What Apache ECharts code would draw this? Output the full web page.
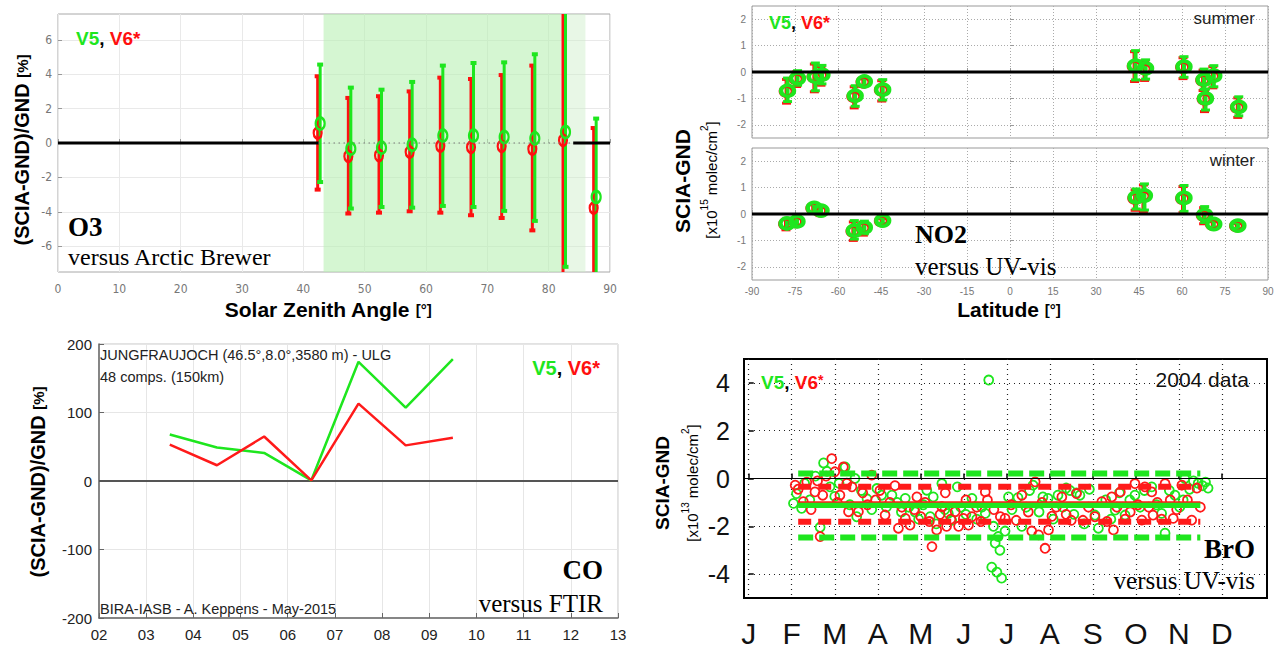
<!DOCTYPE html>
<html>
<head>
<meta charset="utf-8">
<script src="https://cdn.jsdelivr.net/npm/echarts@6.0.0/dist/echarts.min.js"></script>
<style>
  html, body { margin: 0; padding: 0; background: #fff; }
  #chart { width: 1279px; height: 648px; }
</style>
</head>
<body>
<div id="chart"></div>
<script>
// ---------- O3 versus Arctic Brewer ----------
var o3Bins = [42.5, 47.5, 52.5, 57.5, 62.5, 67.5, 72.5, 77.5, 82.5, 87.5];
var o3V5Mean = [1.13, -0.33, -0.27, -0.1, 0.43, 0.43, 0.35, 0.27, 0.64, -3.14];
var o3V5Low = [-2.27, -3.81, -3.72, -3.76, -3.66, -3.72, -3.95, -4.53, -7.2, -9.5];
var o3V5High = [4.56, 3.22, 3.1, 3.55, 4.5, 4.65, 4.69, 5.16, 9.5, 1.42];
var o3V6Mean = [0.58, -0.77, -0.72, -0.52, -0.17, -0.25, -0.19, -0.35, 0.16, -3.78];
var o3V6Low = [-2.71, -4.1, -4.05, -3.97, -4.05, -4.2, -4.36, -5.08, -9.5, -9.5];
var o3V6High = [3.88, 2.62, 2.72, 3.0, 3.8, 3.72, 3.95, 4.5, 9.5, 0.87];
var o3CloudRange = [[43.3, 82], [82, 86]];
var o3ZeroBreaks = [42.5, 84];
var o3YTicks = [-6, -4, -2, 0, 2, 4, 6];

// ---------- NO2 versus UV-vis ----------
var no2SummerLat = [-77.6, -74.1, -67.9, -65.6, -54, -50.8, -44.4, 43.8, 47.3, 60.7, 67.7, 71.1, 68.2, 79.8];
var no2SummerV5 = [-0.71, -0.24, -0.18, -0.1, -0.9, -0.36, -0.67, 0.24, 0.14, 0.2, -0.29, -0.14, -1.0, -1.32];
var no2SummerV5Low = [-1.12, -0.5, -0.71, -0.45, -1.3, -0.5, -1.06, -0.3, -0.27, -0.2, -0.65, -0.56, -1.44, -1.66];
var no2SummerV5High = [-0.23, 0.05, 0.34, 0.25, -0.52, -0.22, -0.29, 0.81, 0.46, 0.58, 0.11, 0.24, -0.65, -0.94];
var no2SummerV6 = [-0.75, -0.28, -0.2, -0.14, -0.95, -0.4, -0.7, 0.2, 0.1, 0.16, -0.33, -0.18, -1.04, -1.36];
var no2SummerV6Low = [-1.18, -0.55, -0.75, -0.5, -1.36, -0.55, -1.1, -0.36, -0.32, -0.25, -0.7, -0.6, -1.5, -1.72];
var no2SummerV6High = [-0.28, 0.0, 0.3, 0.2, -0.56, -0.26, -0.33, 0.77, 0.42, 0.54, 0.07, 0.2, -0.7, -0.98];
var no2WinterLat = [-77.8, -74.3, -68.3, -65.9, -54.3, -50.8, -44.4, 44, 46.9, 60.7, 67.9, 71.1, 79.5];
var no2WinterV5 = [-0.36, -0.28, 0.23, 0.13, -0.63, -0.51, -0.25, 0.63, 0.7, 0.61, -0.03, -0.38, -0.44];
var no2WinterV5Low = [-0.55, -0.42, 0.08, -0.02, -0.95, -0.75, -0.35, 0.19, 0.15, 0.1, -0.32, -0.5, -0.54];
var no2WinterV5High = [-0.16, -0.14, 0.38, 0.28, -0.25, -0.27, -0.15, 0.95, 1.14, 1.08, 0.28, -0.26, -0.34];
var no2WinterV6 = [-0.4, -0.31, 0.2, 0.1, -0.67, -0.55, -0.28, 0.58, 0.66, 0.57, -0.07, -0.41, -0.47];
var no2WinterV6Low = [-0.6, -0.46, 0.04, -0.06, -1.0, -0.8, -0.39, 0.14, 0.1, 0.05, -0.37, -0.54, -0.58];
var no2WinterV6High = [-0.2, -0.17, 0.35, 0.25, -0.3, -0.31, -0.18, 0.91, 1.1, 1.04, 0.24, -0.29, -0.37];
var no2LatRange = [-90, 90];
var no2YTicks = [-2, -1, 0, 1, 2];

// ---------- CO versus FTIR ----------
var coMonths = [3.5, 4.5, 5.5, 6.5, 7.5, 8.5, 9.5];
var coV5 = [68, 49, 41, 1, 174, 107, 178];
var coV6 = [53, 23, 65, 1, 113, 52, 63];
var coMonthRange = [2, 13];

// ---------- BrO versus UV-vis (x in months from 1 Jan 2004) ----------
var brMonthLabels = ['J', 'F', 'M', 'A', 'M', 'J', 'J', 'A', 'S', 'O', 'N', 'D'];
var brMonthTicks = [0, 1, 2, 3, 4, 5, 6, 7, 8, 9, 10, 11];
var brYTicks = [-4, -2, 0, 2, 4];
var brV5Points = [
  [1.04, -1.04], [1.11, -0.63], [1.23, -1.25], [1.3, -0.2], [1.42, -0.9], [1.55, 0.1], [1.66, -2.04],
  [1.74, 0.65], [1.82, 0.3], [1.89, -0.35], [2.0, -0.75], [2.1, -0.2], [2.24, 0.48], [2.35, -1.1],
  [2.47, 0.0], [2.51, -1.6], [2.62, -0.5], [2.75, -0.85], [2.86, -1.3], [2.98, -0.42], [3.09, -0.7],
  [3.2, -1.2], [3.33, -0.7], [3.45, -1.0], [3.55, -1.4], [3.64, -0.83], [3.72, -1.2], [3.87, -1.4],
  [3.95, -1.7], [4.06, -1.1], [4.14, -0.49], [4.22, -1.6], [4.29, -0.77], [4.36, -1.9], [4.49, -0.21],
  [4.56, -1.3], [4.64, -1.46], [4.72, -1.75], [4.85, -0.35], [4.93, -1.2], [5.05, -1.5], [5.19, -0.83],
  [5.3, -1.7], [5.42, -1.2], [5.5, -1.46], [5.58, 4.12], [5.65, -3.71], [5.69, -2.0], [5.73, -2.7],
  [5.77, -3.92], [5.8, -2.43], [5.84, -3.0], [5.88, -4.17], [5.96, -2.2], [6.04, -0.77], [6.12, -1.3],
  [6.26, -0.8], [6.35, -2.0], [6.45, -1.2], [6.53, -0.5], [6.61, -0.28], [6.75, -1.4], [6.84, -0.77],
  [6.96, -0.83], [7.08, -1.7], [7.19, -0.7], [7.3, -1.2], [7.38, -0.4], [7.47, -0.5], [7.56, -1.5],
  [7.62, -0.6], [7.7, -0.7], [7.8, -1.9], [7.92, -0.45], [8.05, -1.53], [8.13, -2.08], [8.3, -0.9],
  [8.42, -1.7], [8.52, -1.32], [8.62, -0.6], [8.75, -1.53], [8.86, -0.9], [8.98, -0.7], [9.1, -1.2],
  [9.2, -0.5], [9.37, -0.35], [9.48, -1.1], [9.6, -1.46], [9.68, -2.29], [9.78, -0.5], [9.91, -0.7],
  [10.02, -1.2], [10.1, -0.9], [10.14, 0.0], [10.25, -0.45], [10.34, -0.1], [10.45, -0.2], [10.55, -0.3],
  [10.62, -0.15], [10.68, -0.4]
];
var brV6Points = [
  [1.08, -0.28], [1.15, -0.45], [1.27, -0.97], [1.35, -0.15], [1.45, -1.3], [1.54, -0.56], [1.6, -0.1],
  [1.66, -2.43], [1.72, -0.7], [1.8, 0.1], [1.93, 0.83], [2.0, 0.28], [2.06, -1.0], [2.12, -0.7],
  [2.2, 0.48], [2.28, -0.2], [2.32, -1.39], [2.4, -0.35], [2.55, -1.39], [2.65, -0.6], [2.76, -1.1],
  [2.86, 0.14], [2.95, -0.9], [3.05, -0.5], [3.17, -1.53], [3.28, -1.0], [3.4, -0.3], [3.48, -2.08],
  [3.56, -1.2], [3.64, -1.67], [3.75, -1.95], [3.85, -1.3], [3.91, -0.77], [4.0, -1.6], [4.1, -1.0],
  [4.2, -1.8], [4.26, -2.85], [4.37, -2.15], [4.45, -1.5], [4.49, -1.18], [4.57, -0.6], [4.6, -2.0],
  [4.7, -1.7], [4.8, -1.39], [4.88, -2.0], [4.99, -1.67], [5.05, -0.9], [5.11, -1.95], [5.19, -1.6],
  [5.3, -1.2], [5.4, -1.8], [5.5, -0.56], [5.55, -0.9], [5.7, -1.3], [5.85, -1.6], [5.96, -1.67],
  [6.1, -1.1], [6.22, -1.75], [6.35, -0.7], [6.5, -1.4], [6.58, -2.2], [6.66, -0.14], [6.74, -2.36],
  [6.82, -1.0], [6.89, -2.92], [6.97, -2.15], [7.05, -1.58], [7.15, -1.2], [7.28, -0.77], [7.38, -1.5],
  [7.5, -1.75], [7.62, -0.63], [7.77, -1.75], [7.9, -1.2], [8.05, -1.6], [8.21, -0.97], [8.33, -1.8],
  [8.44, -0.77], [8.48, -2.15], [8.56, -1.2], [8.64, -0.56], [8.75, -1.7], [8.87, -1.4], [8.98, -0.21],
  [9.05, -1.1], [9.14, -1.74], [9.21, -0.35], [9.3, -1.2], [9.37, -0.56], [9.4, -1.53], [9.5, -1.0],
  [9.6, -1.7], [9.68, -0.21], [9.8, -0.9], [9.87, -1.67], [9.95, -1.3], [10.07, -0.28], [10.2, -0.9],
  [10.3, -1.74], [10.42, -0.4], [10.5, -1.2]
];
var brFitRange = [1.15, 10.5];
var brV5Mean = -1.11;
var brV5Band = [0.21, -2.47];
var brV6Mean = -0.98;
var brV6Band = [-0.35, -1.81];

var GREEN = '#1ee61e';
var RED = '#ff1010';
var SANS = "'Liberation Sans', Arial, Helvetica, sans-serif";
var SERIF = "'Liberation Serif', 'Times New Roman', serif";
var NARROW = "'Liberation Sans Narrow', 'DejaVu Sans Condensed', 'Liberation Sans', sans-serif";

var chart = echarts.init(document.getElementById('chart'), null, {renderer: 'svg'});

function pairs(xs, ys) {
  return xs.map(function (x, i) { return [x, ys[i]]; });
}
function triples(xs, lo, hi) {
  return xs.map(function (x, i) { return [x, lo[i], hi[i]]; });
}

// vertical error bar with small caps, clipped to the grid
function errorBars(color, lineW, capW, capH, dx) {
  return function (params, api) {
    var cs = params.coordSys;
    var x = api.value(0);
    var pTop = api.coord([x, api.value(2)]);
    var pBot = api.coord([x, api.value(1)]);
    var px = pTop[0] + dx;
    var yMin = cs.y, yMax = cs.y + cs.height;
    var kids = [{
      type: 'line',
      shape: {x1: px, y1: Math.max(pTop[1], yMin), x2: px, y2: Math.min(pBot[1], yMax)},
      style: {stroke: color, lineWidth: lineW}
    }];
    if (pTop[1] >= yMin) {
      kids.push({type: 'rect', shape: {x: px - capW / 2, y: pTop[1] - capH / 2, width: capW, height: capH}, style: {fill: color}});
    }
    if (pBot[1] <= yMax) {
      kids.push({type: 'rect', shape: {x: px - capW / 2, y: pBot[1] - capH / 2, width: capW, height: capH}, style: {fill: color}});
    }
    return {type: 'group', children: kids};
  };
}

function errSeries(grid, data, color, lineW, capW, capH, dx) {
  return {
    type: 'custom', xAxisIndex: grid, yAxisIndex: grid, silent: true,
    renderItem: errorBars(color, lineW, capW, capH, dx),
    encode: {x: 0, y: [1, 2]},
    data: data
  };
}

function ringSeries(grid, data, color, size, border, offset) {
  return {
    type: 'scatter', xAxisIndex: grid, yAxisIndex: grid, silent: true,
    symbol: 'circle', symbolSize: size, symbolOffset: offset || [0, 0],
    itemStyle: {color: 'rgba(0,0,0,0)', borderColor: color, borderWidth: border, opacity: 1},
    data: data
  };
}

function lineSeries(grid, data, color, width, type, extra) {
  var s = {
    type: 'line', xAxisIndex: grid, yAxisIndex: grid, silent: true,
    showSymbol: false, symbol: 'none', animation: false,
    lineStyle: {color: color, width: width, type: type || 'solid', cap: 'butt'},
    data: data
  };
  return Object.assign(s, extra || {});
}

function txt(x, y, text, style, rotation) {
  return {
    type: 'text', x: x, y: y, z: 100, rotation: rotation || 0, silent: true,
    style: Object.assign({text: text, fill: '#000', align: 'left', verticalAlign: 'middle'}, style)
  };
}

function versionRich(size, starSize) {
  return {
    g: {fontSize: size, fontWeight: 'bold', fontFamily: SANS, fill: GREEN},
    k: {fontSize: size, fontWeight: 'bold', fontFamily: SANS, fill: '#000'},
    r: {fontSize: size, fontWeight: 'bold', fontFamily: SANS, fill: RED},
    s: {fontSize: starSize, fontWeight: 'bold', fontFamily: SANS, fill: RED, verticalAlign: 'top', lineHeight: starSize}
  };
}
var versionText = '{g|V5}{k|, }{r|V6}{s|*}';

function titleRich(big, small) {
  return {
    b: {fontSize: big, fontWeight: 'bold', fontFamily: SANS, fill: '#000'},
    s: {fontSize: small, fontWeight: 'bold', fontFamily: SANS, fill: '#000'}
  };
}
function unitRich(size) {
  return {
    m: {fontSize: size, fontFamily: SANS, fill: '#000', lineHeight: size + 4, verticalAlign: 'bottom'},
    u: {fontSize: Math.round(size * 0.65), fontFamily: SANS, fill: '#000', lineHeight: size + 4, verticalAlign: 'top'}
  };
}

var grayAxis = {
  axisLine: {show: false},
  axisTick: {inside: true, length: 4, lineStyle: {color: '#999'}}
};

var option = {
  backgroundColor: '#fff',
  animation: false,
  grid: [
    {left: 58, top: 14, width: 552, height: 258, show: true, borderColor: '#a8a8a8', borderWidth: 1},
    {left: 752, top: 6, width: 516, height: 132, show: true, borderColor: '#999', borderWidth: 1},
    {left: 752, top: 148, width: 516, height: 132, show: true, borderColor: '#999', borderWidth: 1},
    {left: 99, top: 344, width: 519, height: 274, show: true, borderColor: '#c4c4c4', borderWidth: 1},
    {left: 744, top: 359, width: 523, height: 239, show: true, borderColor: '#000', borderWidth: 2}
  ],
  xAxis: [
    {gridIndex: 0, type: 'value', min: 0, max: 90, interval: 10,
      axisLine: grayAxis.axisLine, axisTick: grayAxis.axisTick,
      axisLabel: {color: '#777', fontSize: 12, fontFamily: NARROW, margin: 11},
      splitLine: {lineStyle: {color: '#e9e9e9', width: 1}}},
    {gridIndex: 1, type: 'value', min: -90, max: 90, interval: 15,
      axisLine: grayAxis.axisLine, axisTick: grayAxis.axisTick,
      axisLabel: {show: false},
      splitLine: {lineStyle: {color: '#aaa', type: [1, 2]}}},
    {gridIndex: 2, type: 'value', min: -90, max: 90, interval: 15,
      axisLine: grayAxis.axisLine, axisTick: grayAxis.axisTick,
      axisLabel: {color: '#777', fontSize: 10, fontFamily: SANS, margin: 6},
      splitLine: {lineStyle: {color: '#aaa', type: [1, 2]}}},
    {gridIndex: 3, type: 'value', min: 2, max: 13, interval: 1,
      axisLine: {show: true, onZero: false, lineStyle: {color: '#666', width: 1.5}},
      axisTick: {inside: true, length: 5, lineStyle: {color: '#666'}},
      axisLabel: {color: '#222', fontSize: 15, fontFamily: SANS, margin: 9,
        formatter: function (v) { return (v < 10 ? '0' : '') + v; }},
      splitLine: {lineStyle: {color: '#e6e6e6'}}},
    {gridIndex: 4, type: 'value', min: -0.11, max: 12.05,
      axisLine: {show: false},
      axisTick: {inside: true, length: 5, customValues: brMonthTicks, lineStyle: {color: '#000', width: 1.5}},
      axisLabel: {customValues: brMonthTicks, color: '#111', fontSize: 30, fontFamily: SANS, margin: 20,
        formatter: function (v) { return brMonthLabels[Math.round(v)]; }},
      splitLine: {lineStyle: {color: '#222', type: [1, 4], width: 1.2}}}
  ],
  yAxis: [
    {gridIndex: 0, type: 'value', min: -7.5, max: 7.5,
      axisLine: grayAxis.axisLine,
      axisTick: {inside: true, length: 4, customValues: o3YTicks, lineStyle: {color: '#999'}},
      axisLabel: {customValues: o3YTicks, color: '#777', fontSize: 12, fontFamily: NARROW, margin: 6},
      splitLine: {lineStyle: {color: '#e9e9e9'}}},
    {gridIndex: 1, type: 'value', min: -2.5, max: 2.5,
      axisLine: grayAxis.axisLine,
      axisTick: {inside: true, length: 4, customValues: no2YTicks, lineStyle: {color: '#999'}},
      axisLabel: {customValues: no2YTicks, color: '#777', fontSize: 10, fontFamily: SANS, margin: 6},
      splitLine: {lineStyle: {color: '#aaa', type: [1, 2]}}},
    {gridIndex: 2, type: 'value', min: -2.5, max: 2.5,
      axisLine: grayAxis.axisLine,
      axisTick: {inside: true, length: 4, customValues: no2YTicks, lineStyle: {color: '#999'}},
      axisLabel: {customValues: no2YTicks, color: '#777', fontSize: 10, fontFamily: SANS, margin: 6},
      splitLine: {lineStyle: {color: '#aaa', type: [1, 2]}}},
    {gridIndex: 3, type: 'value', min: -200, max: 200, interval: 100,
      axisLine: {show: true, onZero: false, lineStyle: {color: '#666', width: 1.5}},
      axisTick: {inside: true, length: 5, lineStyle: {color: '#666'}},
      axisLabel: {color: '#222', fontSize: 15, fontFamily: SANS, margin: 7},
      splitLine: {lineStyle: {color: '#e6e6e6'}}},
    {gridIndex: 4, type: 'value', min: -5, max: 5,
      axisLine: {show: false},
      axisTick: {inside: true, length: 5, customValues: brYTicks, lineStyle: {color: '#000', width: 1.5}},
      axisLabel: {customValues: brYTicks, color: '#111', fontSize: 25, fontFamily: SANS, margin: 14},
      splitLine: {lineStyle: {color: '#222', type: [1, 4], width: 1.2}}}
  ],
  series: [
    // O3
    lineSeries(0, [[0, 0], [o3ZeroBreaks[0], 0]], '#000', 3, 'solid', {
      markArea: {silent: true, data: [
        [{xAxis: o3CloudRange[0][0], itemStyle: {color: 'rgba(185,240,180,0.6)'}}, {xAxis: o3CloudRange[0][1]}],
        [{xAxis: o3CloudRange[1][0], itemStyle: {color: 'rgba(205,238,200,0.45)'}}, {xAxis: o3CloudRange[1][1]}]
      ]}
    }),
    lineSeries(0, [[o3ZeroBreaks[0], 0], [o3ZeroBreaks[1], 0]], '#777', 1.5, [1, 4]),
    lineSeries(0, [[o3ZeroBreaks[1], 0], [90, 0]], '#000', 3),
    errSeries(0, triples(o3Bins, o3V6Low, o3V6High), RED, 3, 6, 4, -1),
    errSeries(0, triples(o3Bins, o3V5Low, o3V5High), GREEN, 3, 6, 4, 1.5),
    ringSeries(0, pairs(o3Bins, o3V6Mean), RED, [8, 11], 2.5, [-1, 0]),
    ringSeries(0, pairs(o3Bins, o3V5Mean), GREEN, [9, 12], 2.5, [1.5, 0]),

    // NO2 summer
    lineSeries(1, [[no2LatRange[0], 0], [no2LatRange[1], 0]], '#000', 3),
    errSeries(1, triples(no2SummerLat, no2SummerV6Low, no2SummerV6High), RED, 4, 9, 3, -1),
    ringSeries(1, pairs(no2SummerLat, no2SummerV6), RED, [12, 10], 3.5, [-1, -0.5]),
    errSeries(1, triples(no2SummerLat, no2SummerV5Low, no2SummerV5High), GREEN, 4, 9, 3, 0),
    ringSeries(1, pairs(no2SummerLat, no2SummerV5), GREEN, [13, 11], 4),

    // NO2 winter
    lineSeries(2, [[no2LatRange[0], 0], [no2LatRange[1], 0]], '#000', 3),
    errSeries(2, triples(no2WinterLat, no2WinterV6Low, no2WinterV6High), RED, 4, 9, 3, -1),
    ringSeries(2, pairs(no2WinterLat, no2WinterV6), RED, [12, 10], 3.5, [-1, -0.5]),
    errSeries(2, triples(no2WinterLat, no2WinterV5Low, no2WinterV5High), GREEN, 4, 9, 3, 0),
    ringSeries(2, pairs(no2WinterLat, no2WinterV5), GREEN, [13, 11], 4),

    // CO
    lineSeries(3, [[coMonthRange[0], 0], [coMonthRange[1], 0]], '#555', 2),
    lineSeries(3, pairs(coMonths, coV5), '#1ee61e', 2.5),
    lineSeries(3, pairs(coMonths, coV6), '#ff1a1a', 2.5),

    // BrO
    lineSeries(4, [[-0.11, 0], [12.05, 0]], '#000', 1.2),
    ringSeries(4, brV5Points, '#1ee61e', 9, 1.8),
    ringSeries(4, brV6Points, '#ff1a1a', 9, 1.8),
    lineSeries(4, [[brFitRange[0], brV5Band[0]], [brFitRange[1], brV5Band[0]]], '#1ee61e', 6, [15, 6]),
    lineSeries(4, [[brFitRange[0], brV5Band[1]], [brFitRange[1], brV5Band[1]]], '#1ee61e', 6, [15, 6]),
    lineSeries(4, [[brFitRange[0], brV6Band[0]], [brFitRange[1], brV6Band[0]]], '#ff1a1a', 6, [13, 7]),
    lineSeries(4, [[brFitRange[0], brV6Band[1]], [brFitRange[1], brV6Band[1]]], '#ff1a1a', 6, [13, 7]),
    lineSeries(4, [[brFitRange[0], brV5Mean], [brFitRange[1], brV5Mean]], '#1ee61e', 6),
    lineSeries(4, [[brFitRange[0], brV6Mean], [brFitRange[1], brV6Mean]], '#ff1a1a', 1.5)
  ],
  graphic: [
    // O3 panel
    txt(22, 150, '{b|(SCIA-GND)/GND }{s|[%]}', {align: 'center', rich: titleRich(20, 15)}, Math.PI / 2),
    txt(328, 309, '{b|Solar Zenith Angle }{s|[°]}', {align: 'center', rich: titleRich(21, 15)}),
    txt(76, 38, versionText, {rich: versionRich(19, 19)}),
    txt(68, 227, 'O3', {font: 'bold 27px ' + SERIF}),
    txt(68, 257, 'versus Arctic Brewer', {font: '24px ' + SERIF}),

    // NO2 panel
    txt(682, 181, 'SCIA-GND', {align: 'center', font: 'bold 21px ' + SANS}, Math.PI / 2),
    txt(709, 180, '{m|[x10}{u|15}{m| molec/cm}{u|2}{m|]}', {align: 'center', rich: unitRich(15)}, Math.PI / 2),
    txt(1009, 309, '{b|Latitude }{s|[°]}', {align: 'center', rich: titleRich(21, 15)}),
    txt(1255, 18, 'summer', {align: 'right', font: '17px ' + SANS, fill: '#222'}),
    txt(1255, 160, 'winter', {align: 'right', font: '17px ' + SANS, fill: '#222'}),
    txt(769, 23, versionText, {rich: versionRich(18, 18)}),
    txt(915, 234, 'NO2', {font: 'bold 26px ' + SERIF}),
    txt(915, 266, 'versus UV-vis', {font: '25px ' + SERIF}),

    // CO panel
    txt(38, 482, '{b|(SCIA-GND)/GND }{s|[%]}', {align: 'center', rich: titleRich(20, 15)}, Math.PI / 2),
    txt(100, 355, 'JUNGFRAUJOCH (46.5°,8.0°,3580 m) - ULG', {font: '14.5px ' + SANS, fill: '#222'}),
    txt(100, 377, '48 comps. (150km)', {font: '14.5px ' + SANS, fill: '#222'}),
    txt(100, 609, 'BIRA-IASB - A. Keppens - May-2015', {font: '14.5px ' + SANS, fill: '#222'}),
    txt(600, 368, versionText, {align: 'right', rich: versionRich(20, 20)}),
    txt(603, 570, 'CO', {align: 'right', font: 'bold 27px ' + SERIF}),
    txt(603, 603, 'versus FTIR', {align: 'right', font: '25px ' + SERIF}),

    // BrO panel
    txt(662, 483, 'SCIA-GND', {align: 'center', font: 'bold 19px ' + SANS}, Math.PI / 2),
    txt(690, 483, '{m|[x10}{u|13}{m| molec/cm}{u|2}{m|]}', {align: 'center', rich: unitRich(15)}, Math.PI / 2),
    txt(761, 382, versionText, {rich: versionRich(19, 14)}),
    txt(1249, 379, '2004 data', {align: 'right', font: '21px ' + SANS, fill: '#111'}),
    txt(1255, 549, 'BrO', {align: 'right', font: 'bold 27px ' + SERIF}),
    txt(1255, 580, 'versus UV-vis', {align: 'right', font: '25px ' + SERIF})
  ]
};

chart.setOption(option);
</script>
</body>
</html>
